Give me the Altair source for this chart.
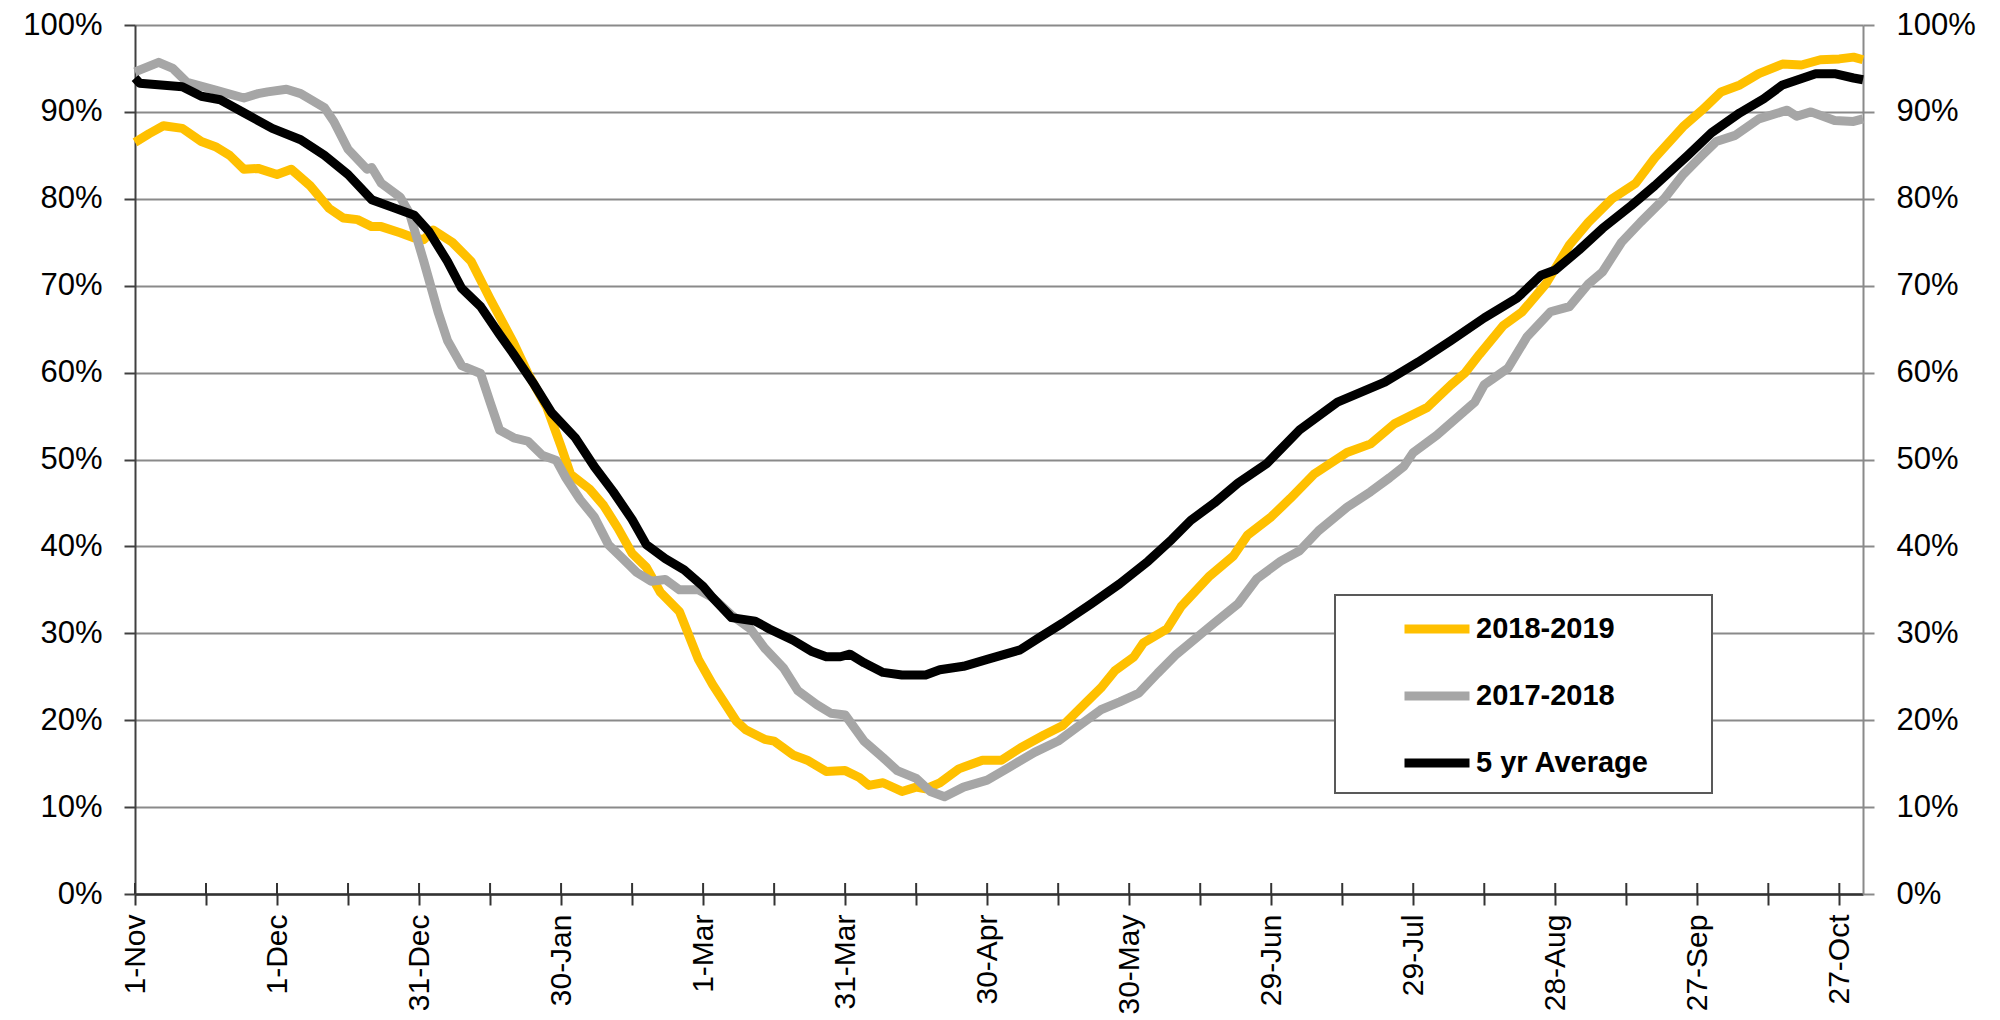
import json
import altair as alt
import pandas as pd

# ---- data ----
tick_labels = ["1-Nov", "1-Dec", "31-Dec", "30-Jan", "1-Mar", "31-Mar", "30-Apr",
               "30-May", "29-Jun", "29-Jul", "28-Aug", "27-Sep", "27-Oct"]
tick_days = list(range(0, 361, 15))
y_ticks = [0, 0.1, 0.2, 0.3, 0.4, 0.5, 0.6, 0.7, 0.8, 0.9, 1.0]

series_names = ["2018-2019", "2017-2018", "5 yr Average"]
series_colors = ["#FFC000", "#A6A6A6", "#000000"]
series_widths = [9, 9, 6.5]

days_1819 = [0, 3, 6, 10, 14, 17, 20, 23, 26, 30, 33, 37, 41, 44, 47, 50, 52, 56, 59, 61, 63,
             67, 71, 75, 80, 83, 87, 90, 92, 96, 99, 102, 105, 108, 111, 115, 119, 122, 127,
             129, 133, 135, 139, 142, 146, 150, 153, 155, 158, 162, 165, 167, 170, 174, 179,
             183, 187, 192, 196, 201, 204, 207, 211, 213, 218, 221, 227, 232, 235, 240, 244,
             249, 256, 261, 266, 273, 278, 281, 284, 289, 293, 298, 303, 307, 312, 317, 321,
             327, 331, 335, 339, 343, 348, 352, 356, 360, 363, 365]
vals_1819 = [86.5, 87.5, 88.4, 88.1, 86.6, 86.0, 85.0, 83.4, 83.5, 82.8, 83.4, 81.5, 78.9, 77.8,
             77.6, 76.8, 76.8, 76.1, 75.5, 75.3, 76.4, 75.0, 72.8, 68.5, 63.4, 59.9, 56.0, 51.5,
             48.3, 46.6, 44.7, 42.1, 39.2, 37.6, 34.7, 32.5, 27.0, 24.1, 19.9, 18.9, 17.8, 17.6,
             16.0, 15.4, 14.1, 14.2, 13.4, 12.5, 12.8, 11.8, 12.3, 12.1, 12.8, 14.4, 15.4, 15.4,
             16.8, 18.3, 19.4, 22.1, 23.7, 25.7, 27.3, 28.9, 30.5, 33.1, 36.6, 38.9, 41.3, 43.4,
             45.5, 48.3, 50.8, 51.8, 54.1, 56.0, 58.6, 60.0, 62.1, 65.4, 67.0, 70.2, 74.7, 77.3,
             80.0, 81.8, 84.7, 88.3, 90.2, 92.3, 93.1, 94.4, 95.5, 95.4, 96.0, 96.1, 96.3, 96.0]

days_1718 = [0, 5, 8, 11, 17, 23, 26, 28, 32, 35, 40, 42, 45, 49, 50, 52, 56, 58, 61, 64, 66,
             69, 73, 75, 77, 80, 83, 86, 89, 91, 94, 97, 100, 103, 106, 109, 112, 115, 119, 122,
             126, 130, 133, 137, 140, 144, 147, 150, 154, 158, 161, 165, 168, 171, 175, 180,
             185, 190, 195, 199, 204, 208, 212, 216, 220, 228, 233, 237, 242, 246, 250, 256,
             261, 265, 268, 270, 275, 279, 283, 285, 290, 294, 299, 303, 307, 310, 314, 318,
             323, 327, 331, 334, 338, 343, 349, 351, 354, 359, 363, 365]
vals_1718 = [94.6, 95.7, 95.0, 93.4, 92.5, 91.6, 92.1, 92.3, 92.6, 92.1, 90.5, 88.9, 85.7, 83.4,
             83.6, 81.8, 80.2, 78.3, 72.8, 67.0, 63.7, 60.8, 59.9, 56.6, 53.4, 52.5, 52.1, 50.5,
             49.9, 47.9, 45.4, 43.4, 40.2, 38.6, 37.0, 36.0, 36.2, 35.0, 35.0, 34.1, 32.1, 30.5,
             28.3, 26.0, 23.4, 21.8, 20.8, 20.6, 17.6, 15.7, 14.2, 13.3, 11.8, 11.2, 12.3, 13.1,
             14.7, 16.3, 17.6, 19.2, 21.2, 22.1, 23.1, 25.4, 27.6, 31.2, 33.4, 36.3, 38.3, 39.5,
             41.8, 44.5, 46.3, 47.9, 49.2, 50.8, 52.8, 54.7, 56.6, 58.6, 60.5, 64.1, 67.0, 67.6,
             70.2, 71.6, 75.0, 77.3, 80.0, 82.8, 85.0, 86.6, 87.3, 89.2, 90.2, 89.5, 90.0, 89.0,
             88.9, 89.2]

days_avg = [0, 1, 10, 14, 18, 23, 29, 35, 40, 45, 50, 55, 59, 62, 66, 69, 73, 77, 80, 84, 88,
            93, 97, 101, 105, 108, 112, 116, 120, 122, 126, 131, 134, 139, 143, 146, 149, 151,
            154, 158, 162, 167, 170, 175, 180, 187, 191, 196, 202, 208, 214, 219, 221, 223,
            228, 233, 239, 246, 254, 264, 271, 278, 285, 292, 297, 300, 305, 310, 316, 321,
            328, 333, 339, 344, 348, 355, 359, 363, 365]
vals_avg = [93.9, 93.3, 92.9, 91.8, 91.4, 89.9, 88.1, 86.8, 85.0, 82.8, 79.9, 78.9, 78.1, 76.3,
            72.8, 69.7, 67.6, 64.4, 62.1, 58.9, 55.4, 52.5, 49.2, 46.3, 43.1, 40.2, 38.6, 37.3,
            35.4, 34.1, 31.8, 31.4, 30.5, 29.2, 27.9, 27.3, 27.3, 27.6, 26.6, 25.5, 25.2, 25.2,
            25.8, 26.2, 27.0, 28.1, 29.5, 31.2, 33.4, 35.7, 38.3, 40.8, 41.9, 43.0, 45.0, 47.3,
            49.5, 53.4, 56.6, 58.9, 61.2, 63.7, 66.3, 68.6, 71.2, 71.8, 74.1, 76.6, 79.2, 81.5,
            85.0, 87.6, 89.9, 91.5, 93.1, 94.4, 94.4, 93.9, 93.7]

rows = []
for name, days, vals in zip(series_names,
                            [days_1819, days_1718, days_avg],
                            [vals_1819, vals_1718, vals_avg]):
    for d, v in zip(days, vals):
        rows.append({"series": name, "day": d, "value": v / 100.0})
df = pd.DataFrame(rows)
ticks_df = pd.DataFrame({"day": tick_days})

FONT = "Liberation Sans"
label_expr = ("datum.value % 30 == 0 ? " + json.dumps(tick_labels) +
              "[datum.value / 30] : ''")

PLOT_W, PLOT_H = 1728, 869

x_enc = alt.X(
    "day:Q",
    scale=alt.Scale(domain=[0, 365], nice=False, zero=False),
    axis=alt.Axis(
        title=None, values=tick_days, labelExpr=label_expr,
        labelAngle=270, labelFont=FONT, labelFontSize=30, labelColor="black",
        labelPadding=9, tickSize=11, tickWidth=2, tickColor="#333333",
        domainColor="#333333", domainWidth=2.5, grid=False, labelOverlap=False,
        labelBound=False, labelFlush=False,
    ),
)

y_scale = alt.Scale(domain=[0, 1], nice=False, zero=True)

left_axis = alt.Axis(
    title=None, values=y_ticks, format=".0%", orient="left",
    labelFont=FONT, labelFontSize=31, labelColor="black", labelPadding=22,
    tickSize=11, tickWidth=2, tickColor="#404040",
    domainColor="#404040", domainWidth=2,
    grid=True, gridColor="#8a8a8a", gridWidth=2,
)
right_axis = alt.Axis(
    title=None, values=y_ticks, format=".0%", orient="right",
    labelFont=FONT, labelFontSize=31, labelColor="black", labelPadding=22,
    tickSize=11, tickWidth=2, tickColor="#8a8a8a",
    domainColor="#8a8a8a", domainWidth=2, grid=False,
)

lines = alt.Chart(df).mark_line(strokeJoin="round").encode(
    x=x_enc,
    y=alt.Y("value:Q", scale=y_scale, axis=left_axis),
    color=alt.Color(
        "series:N",
        scale=alt.Scale(domain=series_names, range=series_colors),
        sort=series_names,
        legend=alt.Legend(
            title=None, orient="none", legendX=1265, legendY=567,
            direction="vertical", symbolType="stroke", symbolSize=4225,
            symbolStrokeWidth=9, labelFont=FONT, labelFontSize=29,
            labelFontWeight="bold", labelColor="black", labelOffset=2,
            labelLimit=400, padding=0, rowPadding=12,
        ),
    ),
    strokeWidth=alt.StrokeWidth(
        "series:N", scale=alt.Scale(domain=series_names, range=series_widths),
        legend=None,
    ),
)

right = alt.Chart(df).mark_line(strokeOpacity=0).encode(
    x=alt.X("day:Q"),
    y=alt.Y("value:Q", scale=y_scale, axis=right_axis),
    detail="series:N",
)

# inner half of the crossing x-axis tick marks
inner_ticks = alt.Chart(ticks_df).mark_rule(color="#333333", strokeWidth=2).encode(
    x=alt.X("day:Q"),
    y=alt.value(PLOT_H - 11),
    y2=alt.value(PLOT_H),
)

frame = alt.Chart(pd.DataFrame({"k": [0]})).mark_rect(
    fill="white", stroke="#595959", strokeWidth=2
).encode(
    x=alt.value(1200), x2=alt.value(1577), y=alt.value(570), y2=alt.value(768)
)

chart = (
    alt.layer(lines, right, inner_ticks, frame)
    .resolve_scale(y="shared")
    .resolve_axis(y="independent")
    .properties(
        width=PLOT_W, height=PLOT_H,
        padding={"left": 127, "top": 17, "right": 125, "bottom": 124},
        autosize=alt.AutoSizeParams(type="none"),
        background="white",
    )
    .configure_view(stroke=None)
)

chart.save("out.html", embed_options={"renderer": "svg", "actions": False})
